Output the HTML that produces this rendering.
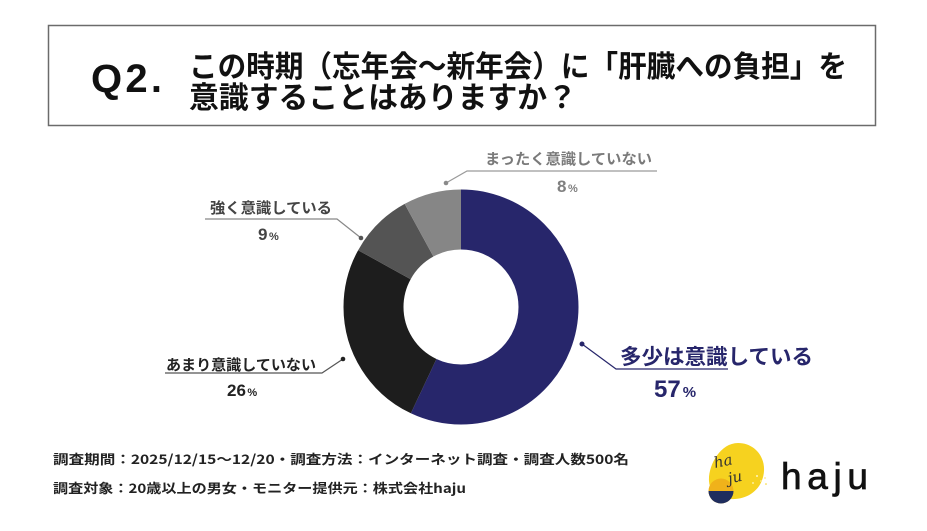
<!DOCTYPE html>
<html>
<head>
<meta charset="utf-8">
<style>
  html,body{margin:0;padding:0;background:#fff;}
  svg{display:block;}
  .jp{font-family:"Liberation Sans","Noto Sans CJK JP",sans-serif;}
  .cjk{font-family:"Noto Sans CJK JP","Liberation Sans",sans-serif;}
  .num{font-family:"Liberation Sans",sans-serif;font-weight:bold;}
</style>
</head>
<body>
<svg width="927" height="531" viewBox="0 0 927 531" xmlns="http://www.w3.org/2000/svg">
  <rect width="927" height="531" fill="#ffffff"/>

  <!-- Title box -->
  <rect x="48.5" y="25.5" width="827" height="100" fill="none" stroke="#6b6b6b" stroke-width="1.5"/>
  <text x="91" y="92" font-family="Liberation Sans, sans-serif" font-weight="bold" font-size="40" fill="#111" textLength="71" lengthAdjust="spacing">Q2.</text>
  <text class="jp" x="189" y="77" font-size="30" font-weight="bold" fill="#111" textLength="658" lengthAdjust="spacingAndGlyphs">この時期（忘年会～新年会）に「肝臓への負担」を</text>
  <text class="jp" x="189" y="108" font-size="30" font-weight="bold" fill="#111" textLength="388" lengthAdjust="spacingAndGlyphs">意識することはありますか？</text>

  <!-- Donut -->
  <g transform="rotate(-90 461 307)" fill="none" stroke-width="60">
    <circle cx="461" cy="307" r="87.5" stroke="#27266b" stroke-dasharray="313.37 1000" stroke-dashoffset="0"/>
    <circle cx="461" cy="307" r="87.5" stroke="#1d1d1d" stroke-dasharray="142.94 1000" stroke-dashoffset="-313.37"/>
    <circle cx="461" cy="307" r="87.5" stroke="#545454" stroke-dasharray="49.48 1000" stroke-dashoffset="-456.31"/>
    <circle cx="461" cy="307" r="87.5" stroke="#868686" stroke-dasharray="43.98 1000" stroke-dashoffset="-505.79"/>
  </g>

  <!-- まったく意識していない -->
  <polyline points="446,183 467,171 657,171" fill="none" stroke="#9a9a9a" stroke-width="1.2"/>
  <circle cx="446" cy="183" r="2.3" fill="#8a8a8a"/>
  <text class="cjk" x="485" y="164" font-size="15" font-weight="bold" fill="#7a7a7a" textLength="167" lengthAdjust="spacingAndGlyphs">まったく意識していない</text>
  <text class="num" x="557" y="192" fill="#808080"><tspan font-size="17">8</tspan><tspan font-size="11" dx="1.5">%</tspan></text>

  <!-- 強く意識している -->
  <polyline points="205,219 337,219 361,238" fill="none" stroke="#888" stroke-width="1.2"/>
  <circle cx="361" cy="238" r="2.3" fill="#555"/>
  <text class="cjk" x="210" y="213" font-size="15" font-weight="bold" fill="#444" textLength="122" lengthAdjust="spacingAndGlyphs">強く意識している</text>
  <text class="num" x="258" y="240" fill="#444"><tspan font-size="17">9</tspan><tspan font-size="11" dx="1.5">%</tspan></text>

  <!-- あまり意識していない -->
  <polyline points="165,373 322,373 343,359" fill="none" stroke="#555" stroke-width="1.2"/>
  <circle cx="343" cy="359" r="2.3" fill="#222"/>
  <text class="cjk" x="166" y="370" font-size="15" font-weight="bold" fill="#222" textLength="150" lengthAdjust="spacingAndGlyphs">あまり意識していない</text>
  <text class="num" x="227" y="396" fill="#222"><tspan font-size="17">26</tspan><tspan font-size="11" dx="1.5">%</tspan></text>

  <!-- 多少は意識している -->
  <polyline points="582,344 616,369 728,369" fill="none" stroke="#27266b" stroke-width="1.2"/>
  <circle cx="582" cy="344" r="2.5" fill="#27266b"/>
  <text class="cjk" x="620" y="364" font-size="21" font-weight="bold" fill="#27266b" textLength="193" lengthAdjust="spacingAndGlyphs">多少は意識している</text>
  <text class="num" x="654" y="397" fill="#27266b"><tspan font-size="24">57</tspan><tspan font-size="15" dx="2">%</tspan></text>

  <!-- Footer -->
  <text class="cjk" x="53" y="464" font-size="13" font-weight="bold" fill="#222" textLength="576" lengthAdjust="spacingAndGlyphs">調査期間：2025/12/15～12/20・調査方法：インターネット調査・調査人数500名</text>
  <text class="cjk" x="53" y="493" font-size="13" font-weight="bold" fill="#222" textLength="413" lengthAdjust="spacingAndGlyphs">調査対象：20歳以上の男女・モニター提供元：株式会社haju</text>

  <!-- Logo -->
  <defs>
    <clipPath id="smallc"><circle cx="721" cy="491" r="12.5"/></clipPath>
  </defs>
  <path d="M738,443 C754,443 765,456 764,471 C763,487 751,498 735,499 C722,500 710,495 709,481 C708,466 720,443 738,443 Z" fill="#f6d21f"/>
  <g clip-path="url(#smallc)">
    <rect x="706" y="476" width="32" height="32" fill="#f0b21a"/>
    <rect x="706" y="491" width="32" height="20" fill="#1f2d5e"/>
  </g>
  <circle cx="757" cy="476" r="1" fill="#fff6c0"/>
  <circle cx="761" cy="481" r="1" fill="#fde78a"/>
  <circle cx="765" cy="478" r="0.9" fill="#fde78a"/>
  <circle cx="753" cy="483" r="0.9" fill="#fff6c0"/>
  <circle cx="766" cy="484" r="0.8" fill="#f6d21f"/>
  <text x="714" y="466" font-family="DejaVu Serif, serif" font-style="italic" font-size="15" fill="#333" transform="rotate(-12 724 462)">ha</text>
  <text x="728" y="482" font-family="DejaVu Serif, serif" font-style="italic" font-size="15" fill="#333" transform="rotate(-12 736 478)">ju</text>
  <text x="781" y="489" font-family="Liberation Sans, sans-serif" font-size="37" fill="#111" stroke="#111" stroke-width="0.7" textLength="87" lengthAdjust="spacing">haju</text>
</svg>
</body>
</html>
